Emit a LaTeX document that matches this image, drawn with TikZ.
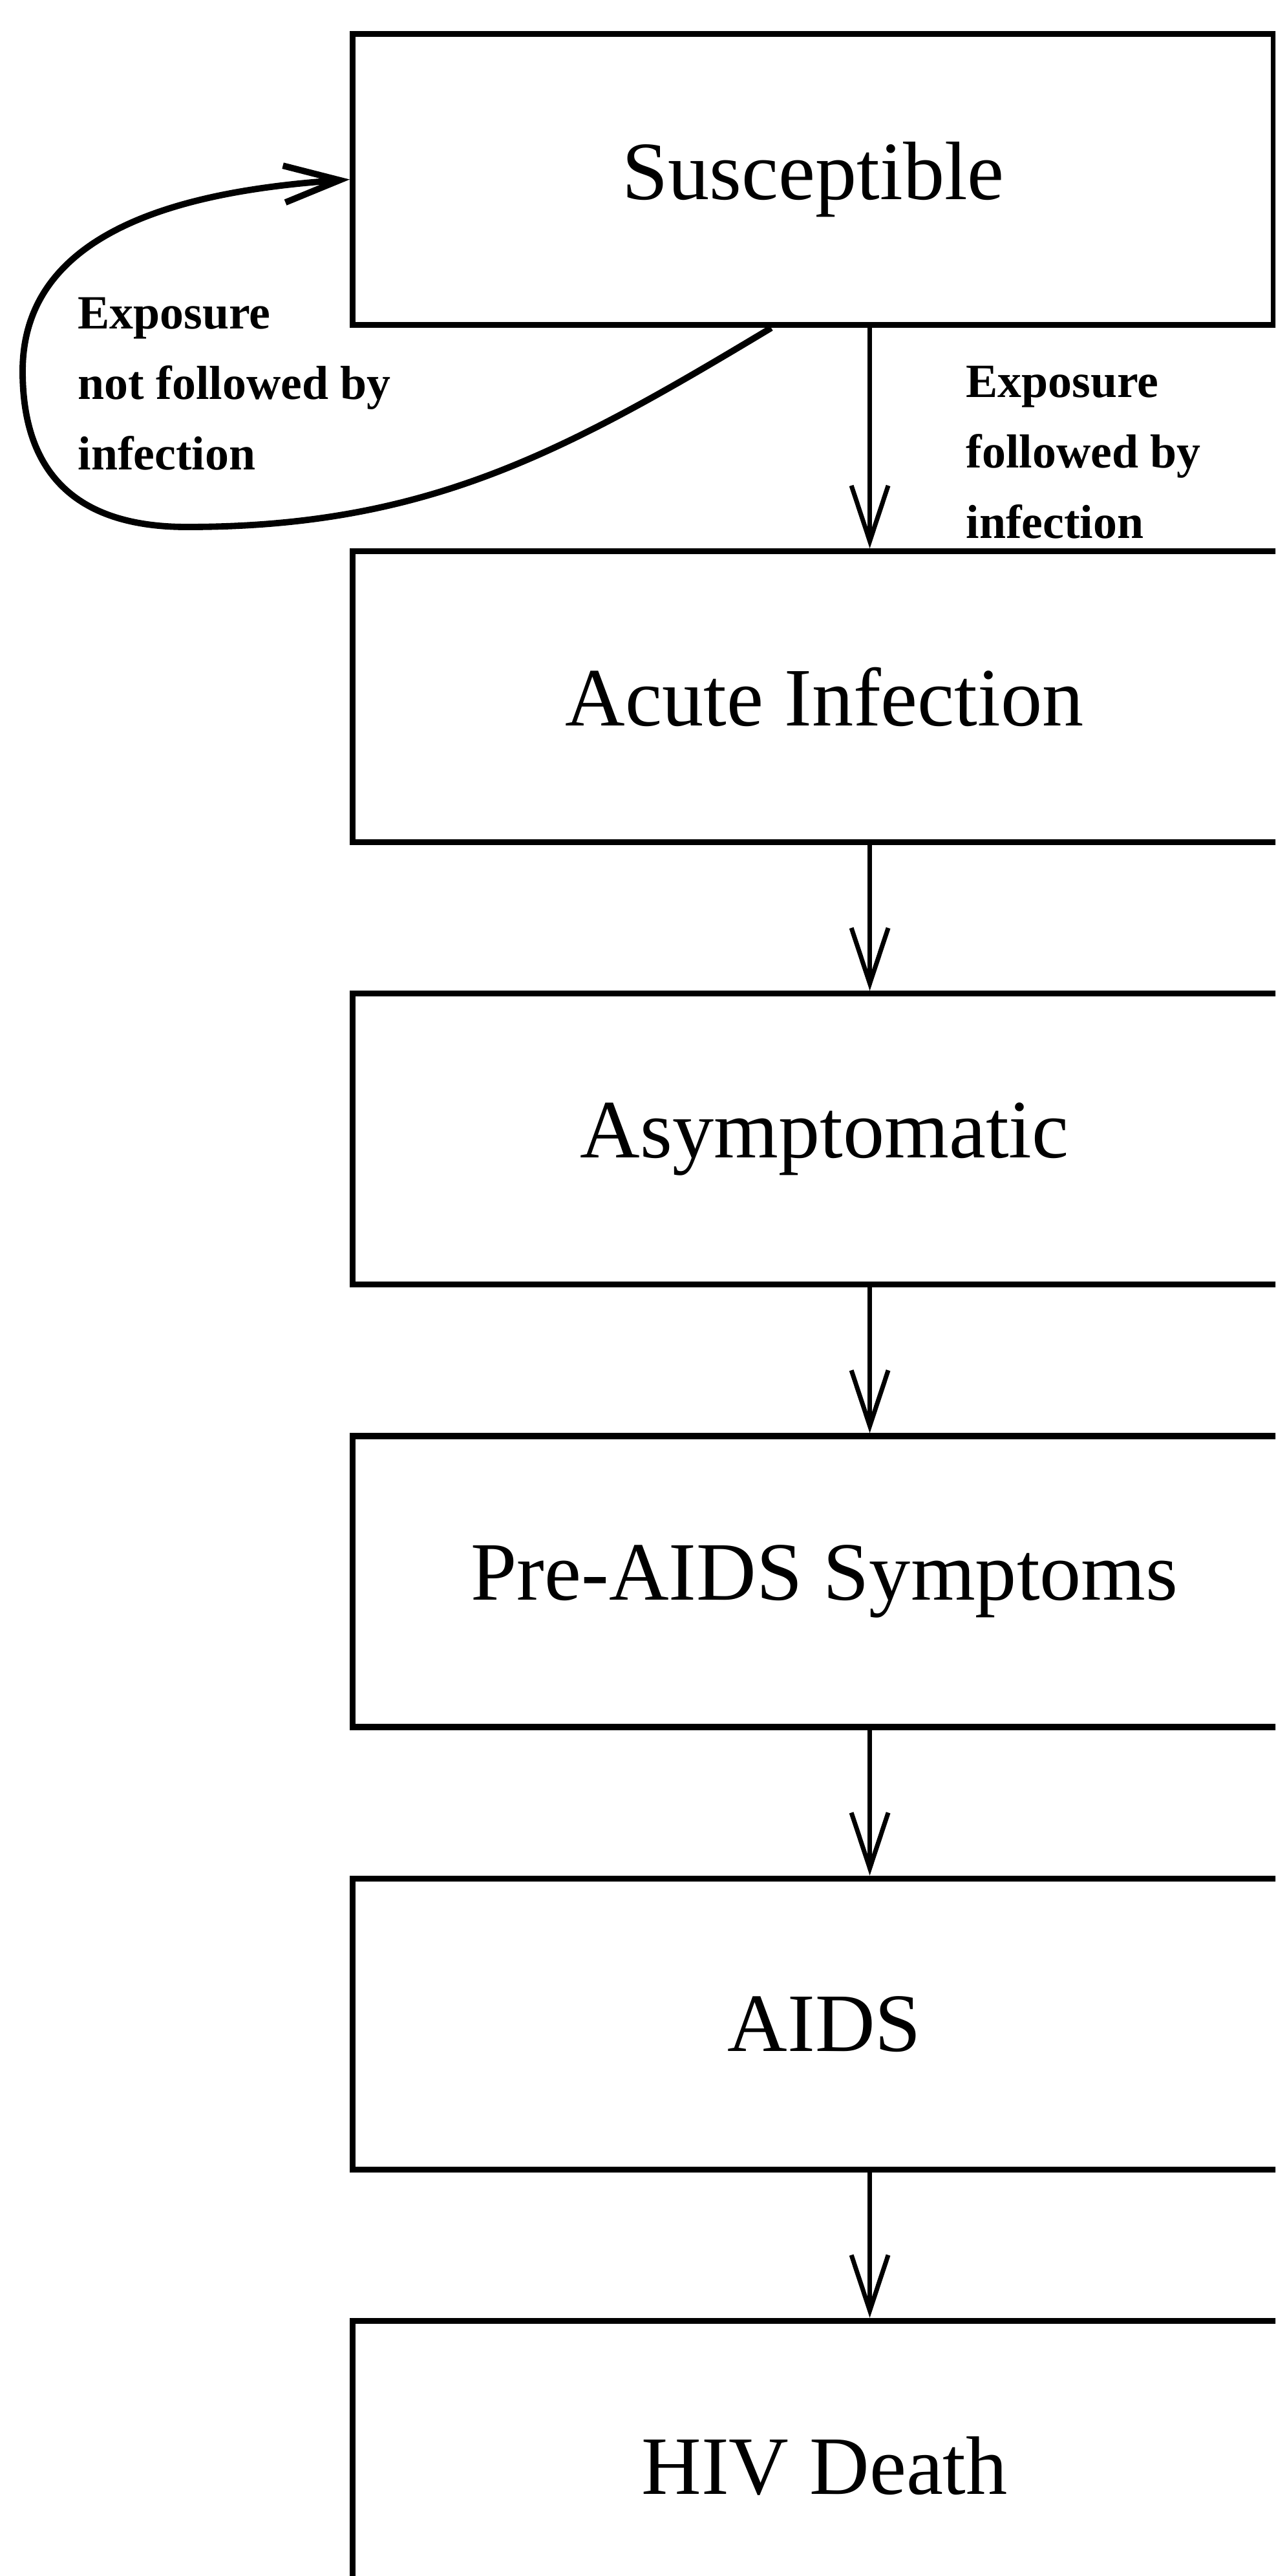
\documentclass[tikz,border=0pt]{standalone}
\usepackage{fontspec}
\setmainfont{Liberation Serif}
\usetikzlibrary{arrows.meta,positioning}

\begin{document}
\begin{tikzpicture}[node distance=2.25cm,
  box/.style={draw,line width=2.6pt,minimum width=14.6cm,minimum height=4.5cm,font=\fontsize{36.5}{44}\selectfont,anchor=north west},
  note/.style={align=left,inner sep=0pt,anchor=base west,font=\bfseries\fontsize{21}{31}\selectfont},
  arr/.style={-{Straight Barb[length=8.6mm,width=5.7mm]},line width=2pt}]
\useasboundingbox (0,0) rectangle (19.73,-39.84);
\clip (0,0) rectangle (19.73,-39.84);
% stages
\node[box,minimum width=14.25cm] (susc) at (5.41,-0.48) {Susceptible};
\node[box,below=3.41cm of susc.south west,anchor=north west] (acute) {Acute Infection};
\node[box,below=of acute] (asym) {Asymptomatic};
\node[box,below=of asym] (pre) {Pre-AIDS Symptoms};
\node[box,below=of pre] (aids) {AIDS};
\node[box,below=of aids] (death) {HIV Death};
% transitions
\foreach \a/\b in {susc/acute,acute/asym,asym/pre,pre/aids,aids/death}
  \draw[arr] ([xshift=7mm]\b.north |- \a.south) -- ([xshift=7mm]\b.north);
% exposure without infection
\draw[arr,line width=2.8pt] ([xshift=-6.5mm]susc.south) to[out=211,in=0] (2.89,-8.15) to[out=180,in=270,looseness=1.2] (0.35,-5.74) to[out=90,in=184] (susc.west);
\node[note] (nolab) at (1.20,-7.26) {Exposure\\not followed by\\infection};
\node[note] (yeslab) at (14.94,-8.32) {Exposure\\followed by\\infection};
\end{tikzpicture}
\end{document}
